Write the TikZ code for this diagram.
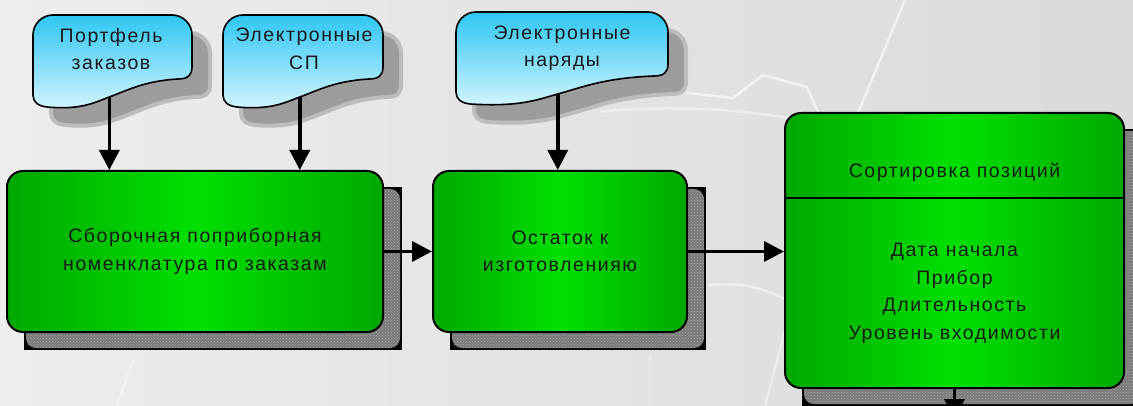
\documentclass[tikz,border=0pt]{standalone}
\usepackage{fontspec}
\setmainfont{Liberation Sans}[LetterSpace=8]
\usetikzlibrary{arrows.meta,calc,patterns}
\definecolor{bgA}{HTML}{EDEDED}
\definecolor{bgB}{HTML}{DADADA}
\definecolor{skyTop}{HTML}{2EC6F2}
\definecolor{skyBot}{HTML}{D4F5FF}
\definecolor{grEdge}{HTML}{00A800}
\definecolor{grMid}{HTML}{00E000}
\definecolor{shGray}{HTML}{7A7A7A}
\definecolor{shDot}{HTML}{ABABAB}
\definecolor{shCloud}{HTML}{9C9C9C}
\definecolor{txt}{HTML}{1A1A1A}
\pgfdeclarelayer{back}
\pgfsetlayers{back,main}
\tikzset{
  lbl/.style={font=\fontsize{19.5}{27.5}\selectfont, text=txt, align=center, inner sep=0pt},
  gbox/.style={draw=black, line width=2pt, rounded corners=16pt, left color=grEdge, right color=grEdge, middle color=grMid, lbl},
  cloudline/.style={draw=black, line width=1.6pt, top color=skyTop, bottom color=skyBot},
  cloudshadow/.style={fill=shCloud, draw=shCloud!60!bgA, line width=4pt},
  arr/.style={line width=3.5pt, -{Triangle[length=20pt,width=20pt]}},
  deco/.style={white, opacity=0.6, line width=2.5pt},
  boxshade/.style={fill=shGray, rounded corners=10pt},
  boxdots/.style={pattern=crosshatch dots, pattern color=shDot, rounded corners=10pt},
}
\newcommand\cloudpath[1]{(0,20) .. controls (0,9) and (9,0) .. (20,0) -- ({#1-20},0)
      .. controls ({#1-9},0) and (#1,9) .. (#1,20) -- (#1,52)
      .. controls (#1,60) and ({#1-4},64) .. ({#1-14},64)
      .. controls ({0.7*#1},66) and ({0.6*#1},75) .. ({0.48*#1},82)
      .. controls ({0.38*#1},88) and ({0.3*#1},95) .. (14,92)
      .. controls (5,91) and (0,87) .. (0,80) -- cycle}
\newcommand\cloudshape[4]{%
  \begin{scope}[shift={(#1,#2)}]
    \path[cloudshadow, shift={(18,18)}] \cloudpath{#3};
    \path[cloudline] \cloudpath{#3};
    \coordinate (#4) at ({0.48*#3},82);
  \end{scope}}
\begin{document}
\begin{tikzpicture}[x=1pt,y=-1pt]
\useasboundingbox (0,0) rectangle (1133,406);
\begin{pgfonlayer}{back}
  \shade[left color=bgA, right color=bgB] (0,0) rectangle (1133,406);
  \draw[deco] (905,0) -- (858,113);
  \draw[deco] (687,93) -- (733,98) -- (763,75) -- (807,87) -- (818,112);
  \draw[deco, opacity=0.4] (600,112) .. controls (670,104) and (740,110) .. (790,118);
  \draw[deco, opacity=0.35] (133,360) -- (117,406);
  \draw[deco, opacity=0.45] (708,285) .. controls (740,282) and (765,288) .. (786,300);
  \draw[deco, opacity=0.4] (785,330) -- (765,406);
  \draw[deco, opacity=0.3] (650,355) -- (650,406);
\end{pgfonlayer}
\clip (0,0) rectangle (1133,406);

% clouds
\cloudshape{33}{15}{159}{c1out}
\cloudshape{223}{15}{160}{c2out}
\cloudshape{456}{12}{212}{c3out}
\node[lbl] (t1) at (111,49) {Портфель\\заказов};
\node[lbl] (t2) at (304,49) {Электронные\\СП};
\node[lbl] (t3) at (562,48) {Электронные\\наряды};

% boxes
\node[gbox, minimum width=376pt, minimum height=161pt] (b1) at (195,251.5) {Сборочная поприборная\\номенклатура по заказам};
\node[gbox, minimum width=254pt, minimum height=161pt] (b2) at (560,251.5) {Остаток к\\изготовленияю};
\node[gbox, minimum width=339pt, minimum height=275pt] (b3) at (954.5,250.5) {};
\coordinate (d3) at (954.5,198);
\draw[line width=2pt] (b3.west |- d3) -- (b3.east |- d3);
\node[lbl] (s3) at (954.5,172) {Сортировка позиций};
\node[lbl] (p3) at (954.5,293.5) {Дата начала\\Прибор\\Длительность\\Уровень входимости};

% box shadows
\begin{pgfonlayer}{back}
  \foreach \b in {b1,b2,b3} {
    \fill[black] ($(\b.north west)+(18,17)$) rectangle ($(\b.south east)+(18,17)$);
    \path[boxshade] ($(\b.north west)+(20,19)$) rectangle ($(\b.south east)+(16,15)$);
    \path[boxdots] ($(\b.north west)+(20,19)$) rectangle ($(\b.south east)+(16,15)$);
  }
\end{pgfonlayer}

% connectors
\draw[arr] (c1out) -- (c1out |- b1.north);
\draw[arr] (c2out) -- (c2out |- b1.north);
\draw[arr] (c3out) -- (c3out |- b2.north);
\draw[arr] (b1.east) -- (b2.west);
\draw[arr] (b2.east) -- (b2.east -| b3.west);
\coordinate (down3) at ($(b3.south)+(0,30)$);
\draw[arr] (b3.south) -- (down3);
\end{tikzpicture}
\end{document}
